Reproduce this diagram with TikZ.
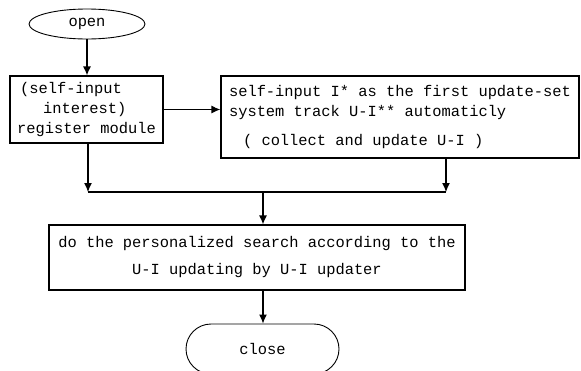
\documentclass[tikz,border=0pt]{standalone}
\usepackage{fontspec}
\setmonofont{Liberation Mono}
\usetikzlibrary{arrows.meta,shapes.geometric}
\tikzset{
  box/.style={draw, line width=1.2pt, inner sep=0pt, font=\ttfamily\fontsize{15.4}{20}\selectfont},
  conn/.style={line width=1.2pt},
  arr/.style={conn, -{Latex[length=9pt,width=8pt]}},
}
\begin{document}
\begin{tikzpicture}[x=1pt,y=-1pt]
\useasboundingbox (0,0) rectangle (581,370);
\fill[white] (0,0) rectangle (581,370);
\node[box, line width=0.9pt, ellipse, minimum width=116pt, minimum height=30pt] (open) at (87,24) {open};
\node[box, minimum width=153pt, minimum height=67pt, align=left] (reg) at (86.5,109.5)
  {\hspace*{3pt}(self-input\\\hspace*{26pt}interest)\\register module};
\node[box, minimum width=358pt, minimum height=82pt, align=left] (track) at (400,117)
  {self-input I* as the first update-set\\system track U-I** automaticly\\[9pt]\hspace*{14pt}( collect and update U-I )};
\node[box, minimum width=416pt, minimum height=65pt, align=center] (search) at (257,257.5)
  {do the personalized search according to the\\[7pt]U-I updating by U-I updater};
\node[box, line width=0.9pt, rounded corners=25pt, minimum width=153pt, minimum height=50pt] (close) at (262.5,349) {close};
\coordinate (jl) at (88,192);
\coordinate (jr) at (446,192);
\coordinate (jm) at (263,192);
\draw[arr] (open.south) -- (reg.north -| open.south);
\draw[arr] (reg.east) -- (track.west |- reg.east);
\draw[arr] (reg.south -| jl) -- (jl);
\draw[arr] (track.south -| jr) -- (jr);
\draw[conn] (jl) -- (jr);
\draw[arr] (jm) -- (search.north -| jm);
\draw[arr] (search.south -| jm) -- (close.north -| jm);
\end{tikzpicture}
\end{document}
